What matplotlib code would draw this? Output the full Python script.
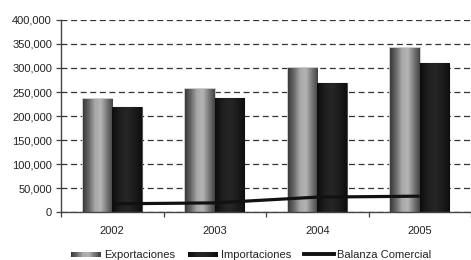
import numpy as np
import matplotlib
matplotlib.use("Agg")
import matplotlib.pyplot as plt
from matplotlib.patches import Rectangle
from matplotlib.legend_handler import HandlerBase
from matplotlib.lines import Line2D
from matplotlib.colors import LinearSegmentedColormap

years = ["2002", "2003", "2004", "2005"]
exportaciones = [235000, 256000, 300000, 342000]
importaciones = [218000, 237000, 269000, 310000]
balanza = [17000, 19000, 31000, 33000]
yticks = [0, 50000, 100000, 150000, 200000, 250000, 300000, 350000, 400000]

plt.rcParams['font.family'] = ['Liberation Sans', 'DejaVu Sans']
plt.rcParams['lines.scale_dashes'] = False

exp_cmap = LinearSegmentedColormap.from_list(
    "exp", ["#3a3a3a", "#6a6a6a", "#a8a8a8", "#b4b4b4", "#7a7a7a", "#444444"])
imp_cmap = LinearSegmentedColormap.from_list(
    "imp", ["#0c0c0c", "#1e1e1e", "#262626", "#1c1c1c", "#0e0e0e"])

FS = 8.0

fig = plt.figure(figsize=(4.71, 2.60), dpi=100)
ax = fig.add_axes([61/471, 1-212/260, 1-61/471, 192/260])

x = np.arange(len(years))
w = 0.29
grad = np.linspace(0, 1, 64).reshape(1, -1)

b1 = ax.bar(x - w/2, exportaciones, w, color="#909090", edgecolor="#c4c4c4",
            linewidth=1.2, zorder=2)
b2 = ax.bar(x + w/2, importaciones, w, color="#1a1a1a", edgecolor="#505050",
            linewidth=0.8, zorder=2)
for bars, cmap in ((b1, exp_cmap), (b2, imp_cmap)):
    for p in bars:
        x0, y0 = p.get_x(), p.get_y()
        x1, y1 = x0 + p.get_width(), y0 + p.get_height()
        im = ax.imshow(grad, extent=[x0, x1, y0, y1], aspect='auto',
                       cmap=cmap, zorder=2.5, interpolation='bilinear')
        im.set_clip_path(p)

ax.plot(x, balanza, color="#111111", lw=2.3, zorder=4, solid_capstyle='butt')

ax.set_xlim(-0.5, len(years) - 0.5)
ax.set_ylim(0, 400000)
ax.set_yticks(yticks)
ax.set_yticklabels([f"{v:,}" for v in yticks])
ax.yaxis.grid(True, linestyle=(0, (4.3, 2.6)), color="#333333", lw=0.9, zorder=0)
ax.set_axisbelow(True)

ax.set_xticks(np.arange(len(years) + 1) - 0.5)
ax.set_xticklabels([])
ax.set_xticks(x, minor=True)
ax.set_xticklabels(years, minor=True)
ax.tick_params(axis='x', which='minor', length=0, pad=10, labelsize=FS, colors="#222222")
ax.tick_params(axis='x', which='major', length=3.5, width=0.9, color="#444444")
ax.tick_params(axis='y', length=3.5, width=0.9, color="#444444", labelsize=FS,
               labelcolor="#222222", pad=3)
for s in ("top", "right"):
    ax.spines[s].set_visible(False)
for s in ("left", "bottom"):
    ax.spines[s].set_color("#444444")
    ax.spines[s].set_linewidth(1.0)


class GradHandler(HandlerBase):
    def __init__(self, cmap):
        super().__init__()
        self.cmap = cmap

    def create_artists(self, legend, orig_handle, xdescent, ydescent, width,
                       height, fontsize, trans):
        arts = []
        n = 24
        hh = height * 0.65
        yb = -ydescent + (height - hh) / 2
        for i in range(n):
            r = Rectangle((-xdescent + width * i / n, yb), width / n + 0.3, hh,
                          facecolor=self.cmap(i / (n - 1)), edgecolor='none',
                          transform=trans)
            arts.append(r)
        return arts


h1 = Rectangle((0, 0), 1, 1)
h2 = Rectangle((0, 0), 1, 1)
h3 = Line2D([0], [0], color="#111111", lw=2.8)
leg = fig.legend([h1, h2, h3], ["Exportaciones", "Importaciones", "Balanza Comercial"],
                 loc="center", bbox_to_anchor=(0.533, 5/260), ncol=3, frameon=False,
                 fontsize=FS, handlelength=2.7, handletextpad=0.3, columnspacing=1.15,
                 handler_map={h1: GradHandler(exp_cmap), h2: GradHandler(imp_cmap)})
for t in leg.get_texts():
    t.set_color("#222222")

fig.savefig("out.png", dpi=100)
